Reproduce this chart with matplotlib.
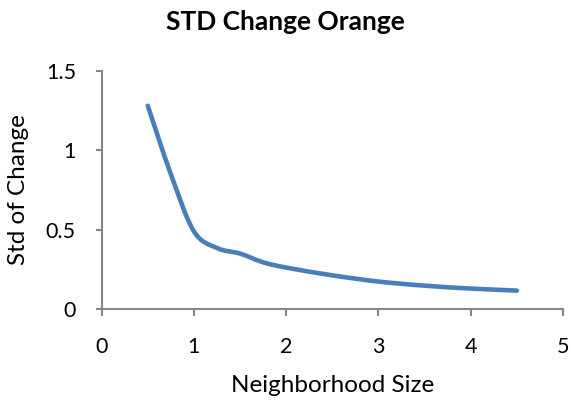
import matplotlib
matplotlib.use("Agg")
import matplotlib.pyplot as plt
from matplotlib.path import Path
from matplotlib.patches import PathPatch
import numpy as np

# values
neighborhood = [0.5, 0.75, 1.0, 1.25, 1.5, 1.75, 2.0, 2.5, 3.0, 3.5, 4.0, 4.5]
std_change = [1.28, 0.85, 0.49, 0.385, 0.35, 0.295, 0.262, 0.213, 0.174, 0.148, 0.13, 0.117]

title = "STD Change Orange"
x_label = "Neighborhood Size"
y_label = "Std of Change"
x_ticks = [0, 1, 2, 3, 4, 5]
y_ticks = [0, 0.5, 1, 1.5]
y_tick_labels = ["0", "0.5", "1", "1.5"]

line_color = "#4A7EBB"
axis_color = "#868686"

plt.rcParams['font.family'] = ['Lato', 'DejaVu Sans']


def smooth_path(xs, ys):
    # Excel-style smoothed line: cubic bezier segments (Catmull-Rom)
    pts = np.column_stack([xs, ys])
    verts = [pts[0]]
    codes = [Path.MOVETO]
    n = len(pts)
    for i in range(n - 1):
        p0 = pts[i - 1] if i > 0 else pts[i]
        p1 = pts[i]
        p2 = pts[i + 1]
        p3 = pts[i + 2] if i + 2 < n else pts[i + 1]
        c1 = p1 + (p2 - p0) / 6.0
        c2 = p2 - (p3 - p1) / 6.0
        verts += [c1, c2, p2]
        codes += [Path.CURVE4] * 3
    return Path(verts, codes)


fig = plt.figure(figsize=(5.71, 4.0), dpi=100)
ax = fig.add_axes([0.178, 0.227, 0.808, 0.596])

patch = PathPatch(smooth_path(neighborhood, std_change), facecolor='none',
                  edgecolor=line_color, linewidth=3.3, capstyle='round',
                  joinstyle='round', transform=ax.transData)
ax.add_patch(patch)

ax.set_xlim(0, 5)
ax.set_ylim(0, 1.5)
ax.set_xticks(x_ticks)
ax.set_yticks(y_ticks)
ax.set_yticklabels(y_tick_labels)

for side in ['top', 'right']:
    ax.spines[side].set_visible(False)
for side in ['left', 'bottom']:
    ax.spines[side].set_color(axis_color)
    ax.spines[side].set_linewidth(1.5)

ax.tick_params(axis='both', direction='out', width=1.5,
               color=axis_color, labelsize=15.5, labelcolor='black')
ax.tick_params(axis='x', length=5, pad=15)
ax.tick_params(axis='y', length=4.5, pad=14)

ax.set_xlabel(x_label, fontsize=17.5, va='center')
ax.set_ylabel(y_label, fontsize=17.5, va='center')
ax.xaxis.set_label_coords(0.5, -0.32)
ax.yaxis.set_label_coords(-0.181, 0.5)
fig.text(0.5, 0.945, title, ha='center', va='center', fontsize=19, fontweight='bold')

fig.savefig("out.png", dpi=100)
